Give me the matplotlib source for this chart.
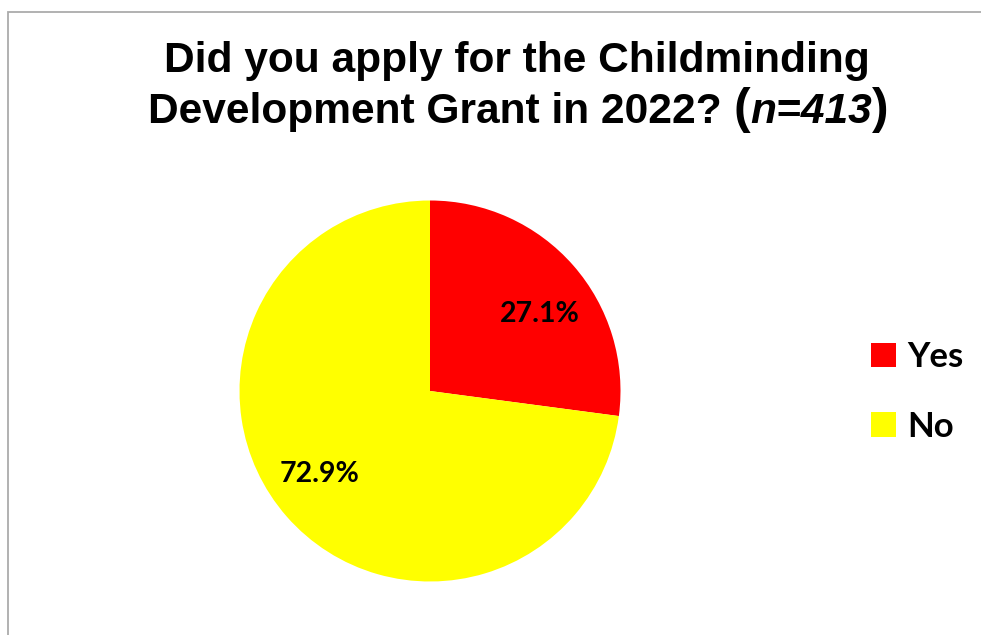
import matplotlib
matplotlib.use('Agg')
import matplotlib.pyplot as plt
from matplotlib.patches import Rectangle, Patch

LABELS = ['Yes', 'No']
SHARES = [27.1, 72.9]
COLORS = ['#ff0000', '#ffff00']

TITLE_LINE1 = 'Did you apply for the Childminding'
TITLE_LINE2 = 'Development Grant in 2022? '
TITLE_N = 'n=413'

W, H = 981, 635
fig = plt.figure(figsize=(W / 100, H / 100), dpi=100)
fig.patch.set_facecolor('white')


def px(x, y):
    """Pixel position (from top-left) to figure fraction."""
    return x / W, 1 - y / H


# chart area border (top and left edges visible)
fig.add_artist(Rectangle(px(7.5, 700), 1.2, (700 - 11.5) / H,
                         transform=fig.transFigure, fill=False,
                         ec='#ababab', lw=1.3))

# pie
cx, cy, r = 430, 391, 190.5
ax = fig.add_axes([(cx - r) / W, (H - cy - r) / H, 2 * r / W, 2 * r / H])
wedges, _ = ax.pie(SHARES, colors=COLORS, startangle=90, counterclock=False,
                   radius=1.0)
ax.set_xlim(-1, 1)
ax.set_ylim(-1, 1)
ax.set_aspect('equal')
ax.axis('off')

# value labels
label_font = dict(family='Lato', weight='bold', fontsize=20.5, color='black',
                  ha='center', va='center')
label_pos = [(540, 314), (320, 474)]
for (lx, ly), v in zip(label_pos, SHARES):
    fig.text(*px(lx, ly), f'{v:.1f}%', **label_font)

# title
title_font = dict(family='Liberation Sans', weight='bold', color='black')
fig.text(*px(517, 72), TITLE_LINE1, fontsize=30.6, ha='center', va='baseline',
         **title_font)

pieces = [
    (TITLE_LINE2, 30.6, 'normal'),
    ('(', 36, 'normal'),
    (TITLE_N, 30.6, 'italic'),
    (')', 36, 'normal'),
]
renderer = fig.canvas.get_renderer()
texts = []
for s, size, style in pieces:
    t = fig.text(0, 1 - 123 / H, s, fontsize=size, style=style,
                 ha='left', va='baseline', **title_font)
    texts.append(t)
widths = [t.get_window_extent(renderer).width for t in texts]
x = 518 - sum(widths) / 2
for t, w in zip(texts, widths):
    t.set_x(x / W)
    x += w

# legend
handles = [Patch(facecolor=c, edgecolor='none', label=l)
           for c, l in zip(COLORS, LABELS)]
leg = fig.legend(handles=handles, loc='center left',
                 bbox_to_anchor=px(840, 392), frameon=False,
                 prop=dict(family='Lato', weight='bold', size=25),
                 handlelength=0.7, handleheight=0.7, handletextpad=0.35,
                 labelspacing=1.07)

fig.savefig('out.png', dpi=100)
